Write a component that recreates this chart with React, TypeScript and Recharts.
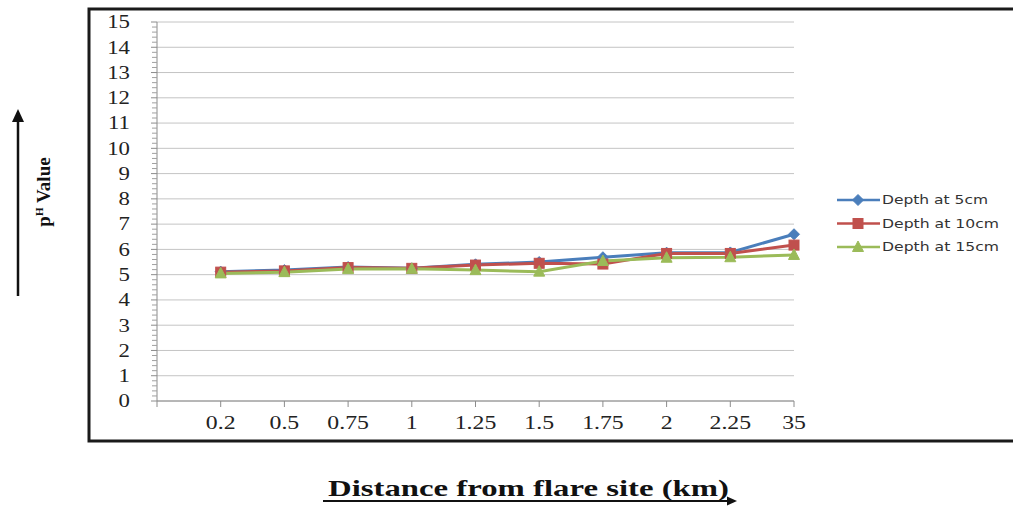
import React from 'react';
import { LineChart, Line, XAxis, YAxis, CartesianGrid, Legend } from 'recharts';

const categories = ['', '0.2', '0.5', '0.75', '1', '1.25', '1.5', '1.75', '2', '2.25', '35'];
const depth5cm = [null, 5.12, 5.18, 5.3, 5.25, 5.41, 5.5, 5.69, 5.87, 5.88, 6.6];
const depth10cm = [null, 5.1, 5.15, 5.28, 5.25, 5.38, 5.45, 5.42, 5.84, 5.84, 6.17];
const depth15cm = [null, 5.05, 5.1, 5.22, 5.23, 5.18, 5.12, 5.54, 5.67, 5.69, 5.78];
const seriesNames = ['Depth at 5cm', 'Depth at 10cm', 'Depth at 15cm'];
const seriesKeys = ['d5', 'd10', 'd15'];
const seriesColors = ['#4A7EBB', '#C0504D', '#9BBB59'];
const markerShapes = ['diamond', 'square', 'triangle'];
const yTicks = [0, 1, 2, 3, 4, 5, 6, 7, 8, 9, 10, 11, 12, 13, 14, 15];
const Y_MAX = 15;
const MINOR_PER_MAJOR = 5;

const CHART_W = 1013;
const CHART_H = 512;
const MARGIN = { top: 22, right: 219, bottom: 81, left: 97 };
const X_AXIS_H = 30;
const Y_TICK_SIZE = 6;
const Y_TICK_MARGIN = 21;
const PLOT_H = CHART_H - MARGIN.top - MARGIN.bottom - X_AXIS_H;

const data = categories.map((c, i) => ({
  cat: c,
  d5: depth5cm[i],
  d10: depth10cm[i],
  d15: depth15cm[i],
}));

const SERIF = '"Liberation Serif", "Times New Roman", serif';

function Marker({ shape, cx, cy, color }: any) {
  if (shape === 'diamond') {
    return <polygon points={`${cx},${cy - 5.5} ${cx + 5.5},${cy} ${cx},${cy + 5.5} ${cx - 5.5},${cy}`} fill={color} stroke={color} />;
  }
  if (shape === 'square') {
    return <rect x={cx - 5} y={cy - 5} width={10} height={10} fill={color} stroke={color} />;
  }
  return <polygon points={`${cx},${cy - 6} ${cx + 5.5},${cy + 4.5} ${cx - 5.5},${cy + 4.5}`} fill={color} stroke={color} />;
}

const makeDot = (idx: number) => (props: any) => {
  const { cx, cy, value, index } = props;
  if (value == null || cx == null || cy == null) return <g key={`e-${idx}-${index}`} />;
  return (
    <g key={`m-${idx}-${index}`}>
      <Marker shape={markerShapes[idx]} cx={cx} cy={cy} color={seriesColors[idx]} />
    </g>
  );
};

const YTick = (props: any) => {
  const { x, y, payload } = props;
  const v = payload.value;
  const axisX = x + Y_TICK_SIZE + Y_TICK_MARGIN;
  const unitPx = PLOT_H / Y_MAX;
  const step = unitPx / MINOR_PER_MAJOR;
  const minors = [];
  if (v > 0) {
    for (let k = 1; k < MINOR_PER_MAJOR; k++) {
      minors.push(
        <line key={k} x1={axisX - 5} x2={axisX} y1={y + k * step} y2={y + k * step} stroke="#a0a0a0" strokeWidth={1} />
      );
    }
  }
  return (
    <g>
      {minors}
      <g transform={`translate(${x},${y}) scale(1.2,1)`}>
        <text x={0} y={0} textAnchor="end" dominantBaseline="central" fontFamily={SERIF} fontSize={19} fill="#222">
          {v}
        </text>
      </g>
    </g>
  );
};

const XTick = (props: any) => {
  const { x, y, payload } = props;
  return (
    <g transform={`translate(${x},${y + 20}) scale(1.25,1)`}>
      <text x={0} y={0} textAnchor="middle" fontFamily={SERIF} fontSize={19} fill="#222">
        {payload.value}
      </text>
    </g>
  );
};

const LegendContent = (props: any) => {
  const payload = props.payload || [];
  return (
    <svg width={185} height={75} style={{ overflow: 'visible' }}>
      {seriesKeys.map((key, idx) => {
        const p = payload.find((q: any) => q.dataKey === key);
        const label = p ? p.value : seriesNames[idx];
        const cy = 15 + idx * 23.5;
        const color = seriesColors[idx];
        return (
          <g key={key}>
            <line x1={7} x2={50} y1={cy} y2={cy} stroke={color} strokeWidth={2.5} />
            <Marker shape={markerShapes[idx]} cx={28} cy={cy} color={color} />
            <text
              x={52}
              y={cy + 4}
              fontFamily='"DejaVu Sans", sans-serif'
              fontSize={11.5}
              fill="#333"
              textLength={idx === 0 ? 106 : 117}
              lengthAdjust="spacingAndGlyphs"
            >
              {label}
            </text>
          </g>
        );
      })}
    </svg>
  );
};

export default function App() {
  return (
    <div style={{ position: 'absolute', left: 0, top: 0, width: CHART_W, height: CHART_H, background: '#fff' }}>
      <LineChart width={CHART_W} height={CHART_H} data={data} margin={MARGIN}>
        <YAxis
          domain={[0, Y_MAX]}
          ticks={yTicks}
          interval={0}
          width={60}
          tickSize={Y_TICK_SIZE}
          tickMargin={Y_TICK_MARGIN}
          axisLine={{ stroke: '#8c8c8c' }}
          tickLine={{ stroke: '#8c8c8c' }}
          tick={YTick}
        />
        <XAxis
          dataKey="cat"
          interval={0}
          height={X_AXIS_H}
          tickSize={6}
          tickMargin={2}
          axisLine={{ stroke: '#8c8c8c' }}
          tickLine={{ stroke: '#8c8c8c' }}
          tick={XTick}
        />
        <CartesianGrid vertical={false} stroke="#c4c4c4" />
        {seriesKeys.map((k, i) => (
          <Line
            key={k}
            dataKey={k}
            name={seriesNames[i]}
            stroke={seriesColors[i]}
            strokeWidth={3}
            dot={makeDot(i)}
            activeDot={false}
            isAnimationActive={false}
          />
        ))}
        <Legend
          layout="vertical"
          align="center"
          verticalAlign="middle"
          content={LegendContent}
          wrapperStyle={{ position: 'absolute', left: 830, top: 185, width: 185, height: 75 }}
        />
      </LineChart>
      <svg
        width={CHART_W}
        height={CHART_H}
        style={{ position: 'absolute', left: 0, top: 0, pointerEvents: 'none' }}
      >
        <polyline points="1013,9 89,9 89,441 1013,441" fill="none" stroke="#1a1a1a" strokeWidth={3} />
        <line x1={18} y1={296} x2={18} y2={120} stroke="#111" strokeWidth={2.5} />
        <polygon points="18,109 12,122 24,122" fill="#111" />
        <text
          transform="translate(50,192) rotate(-90)"
          textAnchor="middle"
          fontFamily={SERIF}
          fontWeight="bold"
          fontSize={19}
          fill="#111"
        >
          p<tspan fontSize={11} dy={-7}>H</tspan>
          <tspan dy={7}> Value</tspan>
        </text>
        <text
          x={328}
          y={496}
          fontFamily={SERIF}
          fontWeight="bold"
          fontSize={23}
          fill="#111"
          textLength={401}
          lengthAdjust="spacingAndGlyphs"
        >
          Distance from flare site (km)
        </text>
        <line x1={323} y1={501} x2={728} y2={501} stroke="#111" strokeWidth={2} />
        <polygon points="737,501 727,496.5 727,505.5" fill="#111" />
      </svg>
    </div>
  );
}
